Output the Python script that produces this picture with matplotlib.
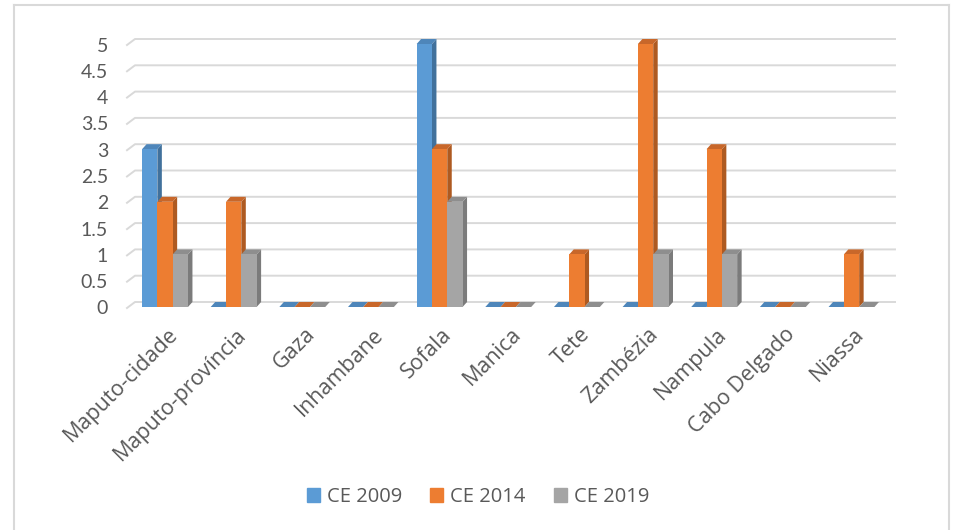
import matplotlib.pyplot as plt
import matplotlib.patches as mpatches
from matplotlib.lines import Line2D
import numpy as np

plt.rcParams['font.family'] = ['Lato', 'DejaVu Sans']

provinces = ['Maputo-cidade', 'Maputo-província', 'Gaza', 'Inhambane', 'Sofala',
             'Manica', 'Tete', 'Zambézia', 'Nampula', 'Cabo Delgado', 'Niassa']
ce2009 = [3, 0, 0, 0, 5, 0, 0, 0, 0, 0, 0]
ce2014 = [2, 2, 0, 0, 3, 0, 1, 5, 3, 0, 1]
ce2019 = [1, 1, 0, 0, 2, 0, 0, 1, 1, 0, 0]
series = ['CE 2009', 'CE 2014', 'CE 2019']
yticks = np.arange(0, 5.01, 0.5)

front = ['#5B9BD5', '#ED7D31', '#A5A5A5']
side = ['#41719C', '#AE5A21', '#7B7B7B']
top = ['#4E86BA', '#C8672A', '#8E8E8E']
txt = '#595959'
grid = '#D9D9D9'

W, H = 956, 530
fig = plt.figure(figsize=(W / 100, H / 100), dpi=100)
ax = fig.add_axes([0, 0, 1, 1])

# pixel mapping: category i centre at x0 + i*sx, value v on the back wall at y0 - v*sy
x0, sx = 165, 68.65
y0, sy = 302, 52.6
ax.set_xlim(-x0 / sx, (W - x0) / sx)
ax.set_ylim((y0 - H) / sy, y0 / sy)
ax.axis('off')

dx, dy = 4.5 / sx, 5 / sy      # bar depth
bw = 15.3 / sx                 # bar width
wall_l, wall_r = -30 / sx, 730 / sx

# gridlines with the little slanted floor piece on the left
for v in yticks:
    ax.plot([wall_l - 8 / sx, wall_l, wall_r], [v - 6 / sy, v, v],
            color=grid, lw=1.4, zorder=1)
    ax.text(-57 / sx, v - 7 / sy, f'{v:g}', ha='right', va='center',
            fontsize=14, color=txt)

data = [ce2009, ce2014, ce2019]
for i in range(len(provinces)):
    for k, vals in enumerate(data):
        v = vals[i]
        x = i - 1.5 * bw + k * bw
        ax.add_patch(mpatches.Polygon(
            [(x + bw, -dy), (x + bw + dx, 0), (x + bw + dx, v), (x + bw, v - dy)],
            closed=True, facecolor=side[k], edgecolor='none', zorder=2 + k))
        ax.add_patch(mpatches.Polygon(
            [(x, v - dy), (x + dx, v), (x + bw + dx, v), (x + bw, v - dy)],
            closed=True, facecolor=top[k], edgecolor='none', zorder=2 + k))
        ax.bar(x, v, width=bw, bottom=-dy, align='edge', color=front[k],
               linewidth=0, zorder=2 + k)

for i, name in enumerate(provinces):
    ax.text(i + 2 / sx, -22 / sy, name, rotation=45, rotation_mode='anchor',
            ha='right', va='top', fontsize=15.5, color=txt,
            family=['Open Sans', 'DejaVu Sans'])

handles = [mpatches.Patch(color=c, label=s) for c, s in zip(front, series)]
fig.legend(handles=handles, loc='center', bbox_to_anchor=(0.5, 1 - 497 / H),
           ncol=3, frameon=False, handlelength=0.65,
           handleheight=0.65, handletextpad=0.35, columnspacing=1.4,
           labelcolor=txt, prop={'family': ['Open Sans', 'DejaVu Sans'], 'size': 14.5})

# chart border
for xs, ys in [([14, 14], [5, H]), ([949, 949], [5, H]), ([14, 949], [5, 5])]:
    fig.add_artist(Line2D([x / W for x in xs], [1 - y / H for y in ys],
                          color=grid, lw=1.5))

fig.savefig('out.png', dpi=100, facecolor='white')
